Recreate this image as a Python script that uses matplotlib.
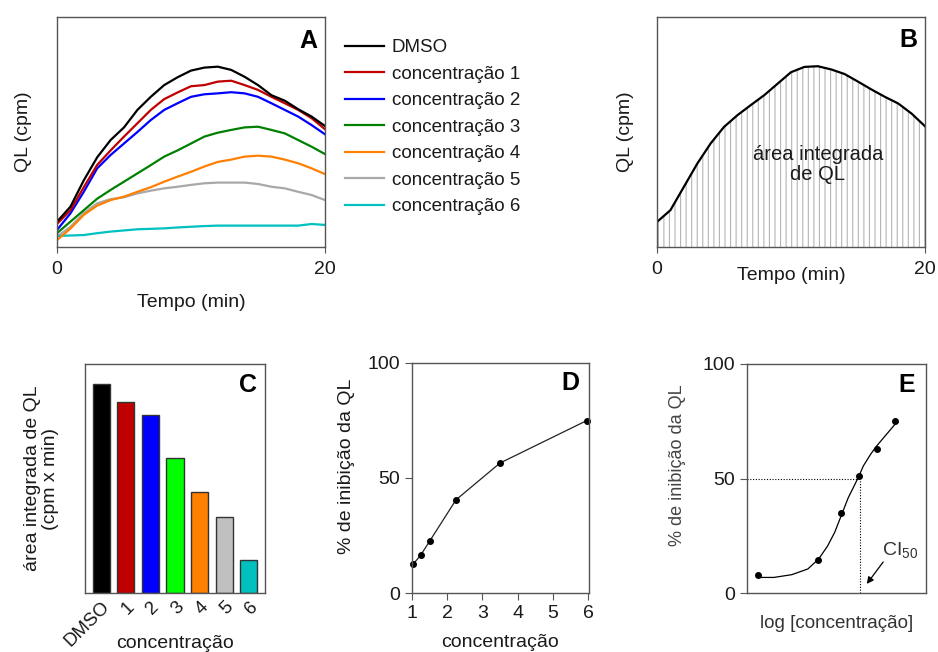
import numpy as np
import matplotlib
matplotlib.use("Agg")
import matplotlib.pyplot as plt

plt.rcParams['font.family'] = ['Liberation Sans', 'DejaVu Sans']
plt.rcParams['font.size'] = 13
plt.rcParams['text.color'] = '#1a1a1a'
plt.rcParams['axes.labelcolor'] = '#1a1a1a'
plt.rcParams['xtick.color'] = '#1a1a1a'
plt.rcParams['ytick.color'] = '#1a1a1a'
plt.rcParams['hatch.linewidth'] = 0.8

# ---- data ----
# panel A: kinetic curves, arbitrary QL units (0-100), time in minutes
tempo = np.arange(0, 21)
ql_dmso = [11, 17.5, 29, 39, 46.5, 52, 59.6, 65.3, 70.4, 73.8, 76.7, 78, 78.4, 77,
           74, 70.4, 66, 63.6, 59.9, 56.7, 52.6]
ql_c1 = [10, 16, 26, 35.7, 42, 48, 53.8, 59.6, 64.3, 67.2, 69.9, 70.4, 71.9, 72.3,
         70.4, 68.3, 65.3, 62.5, 59.6, 56, 51.2]
ql_c2 = [7.4, 14.6, 24, 34.2, 40, 45, 50, 55.2, 59.6, 62.5, 65.3, 66.4, 66.8, 67.3,
         66.8, 65.3, 62.5, 59.6, 56.7, 53, 49]
ql_c3 = [6, 11, 16, 21, 24.8, 28.4, 32, 35.6, 39.3, 42, 45, 48, 49.7, 50.9,
         52, 52.3, 50.9, 49.4, 46.5, 43.6, 40.4]
ql_c4 = [3, 8, 14, 18, 20.4, 21.9, 24, 26, 28.4, 30.6, 32.7, 35, 37, 38,
         39.3, 39.7, 39.3, 38, 36.4, 34.2, 31.7]
ql_c5 = [4.5, 8.8, 14.7, 19, 20.8, 21.6, 23.3, 24.5, 25.5, 26.2, 27, 27.7, 28, 28,
         28, 27.4, 26.2, 25.5, 24, 22.6, 20.4]
ql_c6 = [4.8, 5, 5.2, 6, 6.7, 7.2, 7.7, 7.9, 8.1, 8.5, 8.8, 9.1, 9.3, 9.3,
         9.3, 9.3, 9.3, 9.3, 9.3, 10, 9.6]
series_a = [ql_dmso, ql_c1, ql_c2, ql_c3, ql_c5, ql_c4, ql_c6]
labels_a = ['DMSO', 'concentração 1', 'concentração 2', 'concentração 3',
            'concentração 5', 'concentração 4', 'concentração 6']
colors_a = ['#000000', '#c00000', '#0000ff', '#008000', '#a8a8a8', '#ff8000', '#00c0c0']

# panel B: single curve with integrated area
ql_b = [10.9, 16, 26.1, 36.2, 45, 52.2, 57.3, 61.7, 66, 71, 76, 78.3, 78.6, 77.2,
        75.2, 71.9, 68.5, 65.3, 62.4, 58, 52.5]

# panel C: integrated area per condition
cond_c = ['DMSO', '1', '2', '3', '4', '5', '6']
area_c = [91.1, 83.3, 77.6, 58.9, 44.2, 33.3, 14.5]
colors_c = ['#000000', '#c00000', '#0000ff', '#00ff00', '#ff8000', '#c0c0c0', '#00c0c0']

# panel D: % inhibition vs concentration
conc_d = [1.03, 1.25, 1.5, 2.25, 3.5, 5.97]
inib_d = [12.5, 16.5, 22.5, 40.5, 56.5, 75]

# panel E: % inhibition vs log concentration, with fitted curve
logc_e = [0.6, 3.95, 5.25, 6.25, 7.25, 8.25]
inib_e = [7.8, 14.4, 34.9, 51.2, 63.1, 75.1]
fit_x = [0.6, 1.5, 2.5, 3.4, 4.0, 4.5, 4.9, 5.3, 5.65, 6.0, 6.25, 6.5, 6.9, 7.2, 7.6, 8.25]
fit_y = [6.8, 6.8, 8.0, 10.5, 14.8, 20.5, 26.5, 34.5, 41.5, 47.0, 51.0, 55.5, 60.5, 63.8, 67.5, 73.5]
ic50_x = 6.3

W, H = 938, 652
fig = plt.figure(figsize=(W / 100, H / 100), dpi=100)


def add_ax(l, t, r, b):
    return fig.add_axes([l / W, 1 - b / H, (r - l) / W, (b - t) / H])


def style_box(ax):
    for s in ax.spines.values():
        s.set_color('#555555')
        s.set_linewidth(1.0)


def panel_letter(ax, letter, x, y):
    ax.text(x, y, letter, transform=ax.transAxes, ha='center', va='center',
            fontsize=18, fontweight='bold', color='black')


# ---- A ----
axA = add_ax(57, 17, 325, 247)
for i in [4, 6, 5, 3, 2, 1, 0]:
    axA.plot(tempo, series_a[i], color=colors_a[i], lw=1.6, label=labels_a[i])
axA.set_xlim(0, 20)
axA.set_ylim(0, 100)
axA.set_xticks([0, 20])
axA.set_yticks([])
axA.tick_params(axis='x', length=4, pad=6, labelsize=14, color='#555555')
style_box(axA)
axA.set_xlabel('Tempo (min)', fontsize=14, va='center')
axA.xaxis.set_label_coords(0.5, -0.243)
axA.set_ylabel('QL (cpm)', fontsize=14, va='center')
axA.yaxis.set_label_coords(-0.125, 0.5)
panel_letter(axA, 'A', 0.937, 0.896)

handles, labs = axA.get_legend_handles_labels()
hmap = dict(zip(labs, handles))
order = ['DMSO'] + ['concentração %d' % k for k in range(1, 7)]
fig.legend([hmap[k] for k in order], order, loc='upper left',
           bbox_to_anchor=(345 / W, 1 - 39 / H), frameon=False, fontsize=13.5,
           handlelength=2.1, handletextpad=0.4, labelspacing=0.5,
           borderpad=0, borderaxespad=0)

# ---- B ----
axB = add_ax(657, 17, 925, 247)
axB.fill_between(tempo, ql_b, 0, facecolor='none', edgecolor='#b5b5b5',
                 hatch='|||', linewidth=0)
axB.plot(tempo, ql_b, color='black', lw=1.6)
axB.set_xlim(0, 20)
axB.set_ylim(0, 100)
axB.set_xticks([0, 20])
axB.set_yticks([])
axB.tick_params(axis='x', length=4, pad=6, labelsize=14, color='#555555')
style_box(axB)
axB.set_xlabel('Tempo (min)', fontsize=14, va='center')
axB.xaxis.set_label_coords(0.5, -0.122)
axB.set_ylabel('QL (cpm)', fontsize=14, va='center')
axB.yaxis.set_label_coords(-0.119, 0.5)
axB.text(0.6, 0.36, 'área integrada\nde QL', transform=axB.transAxes,
         ha='center', va='center', fontsize=14.5, linespacing=1.05)
panel_letter(axB, 'B', 0.937, 0.9)

# ---- C ----
axC = add_ax(85, 364, 265, 593)
xc = np.arange(len(cond_c))
axC.bar(xc, area_c, width=0.7, color=colors_c, edgecolor='#333333', linewidth=1)
axC.set_xlim(-0.66, 6.66)
axC.set_ylim(0, 100)
axC.set_xticks(xc)
axC.set_xticklabels(cond_c, rotation=45, ha='right', va='top',
                    rotation_mode='anchor', fontsize=13.5)
axC.tick_params(axis='x', length=0, pad=4)
axC.set_yticks([])
style_box(axC)
axC.set_xlabel('concentração', fontsize=14, va='center')
axC.xaxis.set_label_coords(0.5, -0.22)
axC.set_ylabel('área integrada de QL\n(cpm x min)', fontsize=14, va='center',
               linespacing=1.05)
axC.yaxis.set_label_coords(-0.24, 0.5)
panel_letter(axC, 'C', 0.906, 0.908)

# ---- D ----
axD = add_ax(412, 363, 589, 593)
axD.plot(conc_d, inib_d, color='#222222', lw=0.9, marker='o', markersize=4,
         markerfacecolor='black', markeredgecolor='black', clip_on=False)
axD.set_xlim(1, 6.03)
axD.set_ylim(0, 100)
axD.set_xticks(range(1, 7))
axD.set_yticks([0, 50, 100])
axD.tick_params(length=5, labelsize=14, color='#555555')
style_box(axD)
axD.set_xlabel('concentração', fontsize=14, va='center')
axD.xaxis.set_label_coords(0.497, -0.217)
axD.set_ylabel('% de inibição da QL', fontsize=14, va='center')
axD.yaxis.set_label_coords(-0.369, 0.55)
panel_letter(axD, 'D', 0.893, 0.913)

# ---- E ----
axE = add_ax(747, 364, 926, 593)
axE.plot(fit_x, fit_y, color='black', lw=0.9)
axE.plot(logc_e, inib_e, 'o', color='black', markersize=4)
axE.plot([0, ic50_x], [50, 50], color='black', lw=0.8, linestyle=(0, (1, 1.5)))
axE.plot([ic50_x, ic50_x], [0, 50], color='black', lw=0.8, linestyle=(0, (1, 1.5)))
axE.annotate('', xy=(6.6, 3.0), xytext=(7.7, 14.5),
             arrowprops=dict(arrowstyle='-|>', color='black', lw=0.9,
                             mutation_scale=10))
axE.text(8.55, 18.5, r'CI$_{\mathregular{50}}$', ha='center', va='center',
         fontsize=14, color='#333333')
axE.set_xlim(0, 10)
axE.set_ylim(0, 100)
axE.set_xticks([])
axE.set_yticks([0, 50, 100])
axE.tick_params(length=5, labelsize=14, color='#555555')
style_box(axE)
axE.set_xlabel('log [concentração]', fontsize=13.5, va='center', color='#333333')
axE.xaxis.set_label_coords(0.5, -0.135)
axE.set_ylabel('% de inibição da QL', fontsize=13, va='center', color='#444444')
axE.yaxis.set_label_coords(-0.39, 0.56)
panel_letter(axE, 'E', 0.892, 0.908)

fig.savefig('out.png', dpi=100)
